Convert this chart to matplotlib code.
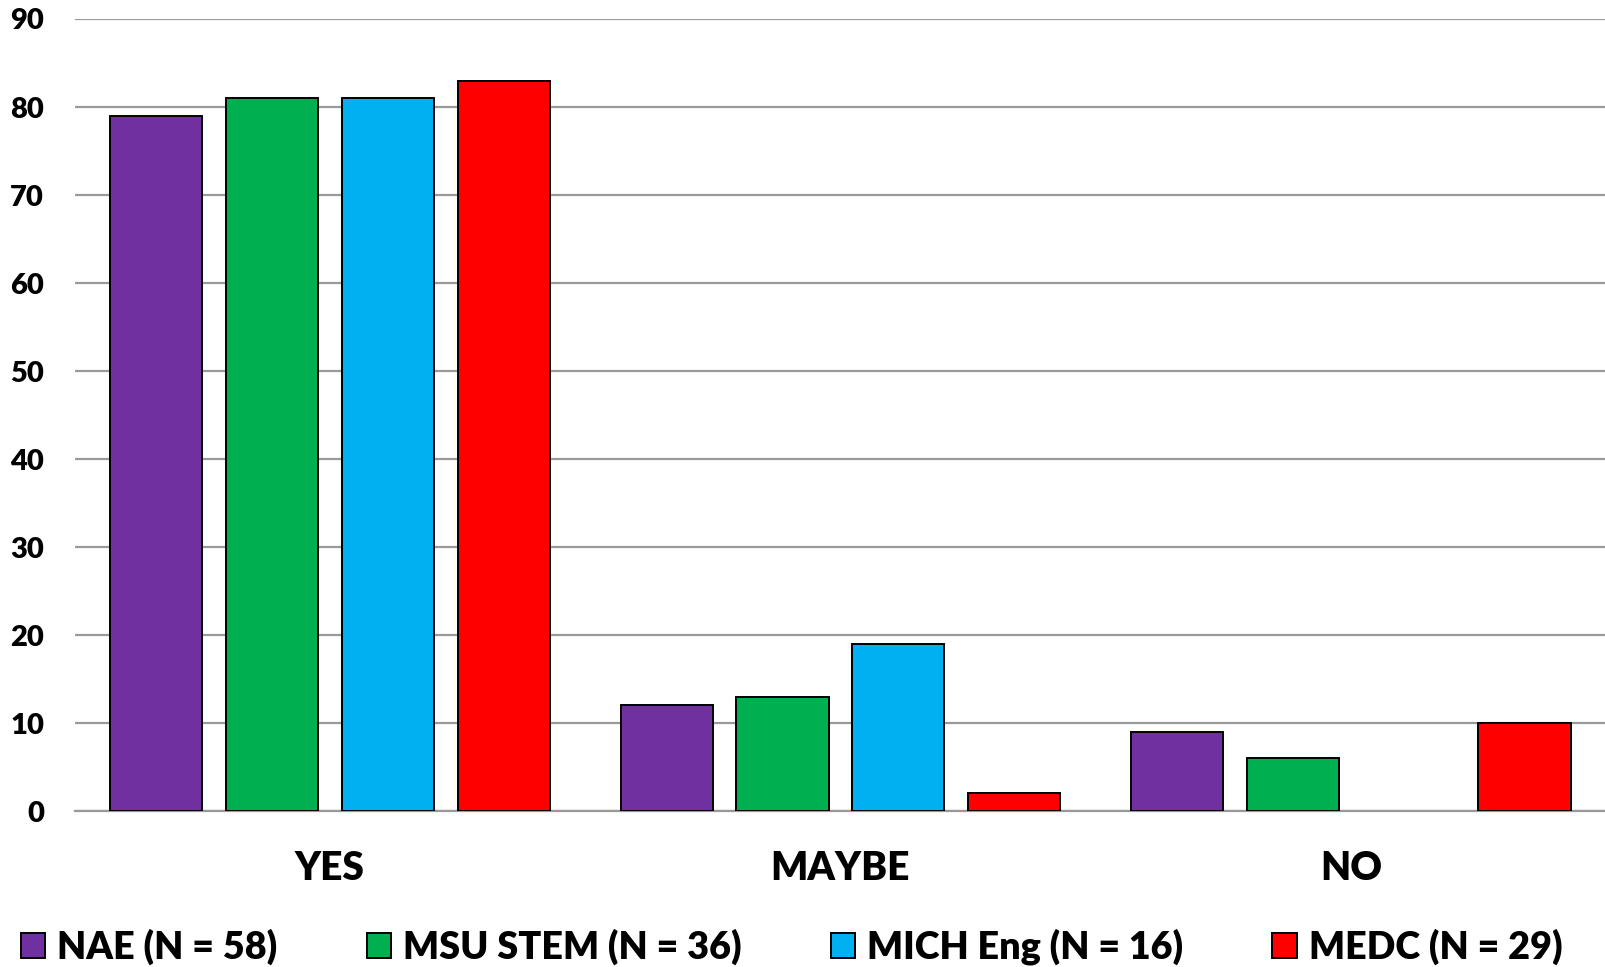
import matplotlib
matplotlib.use("Agg")
import matplotlib.pyplot as plt
import numpy as np

categories = ["YES", "MAYBE", "NO"]
series_names = ["NAE (N = 58)", "MSU STEM (N = 36)", "MICH Eng (N = 16)", "MEDC (N = 29)"]
nae = [79, 12, 9]
msu_stem = [81, 13, 6]
mich_eng = [81, 19, 0]
medc = [83, 2, 10]
yticks = [0, 10, 20, 30, 40, 50, 60, 70, 80, 90]

colors = ["#7030A0", "#00B050", "#00B0F0", "#FF0000"]
series = [nae, msu_stem, mich_eng, medc]

plt.rcParams["font.family"] = ["Lato", "DejaVu Sans"]
plt.rcParams["font.weight"] = "heavy"
WEIGHT = "heavy"

W, H = 1606, 967
fig = plt.figure(figsize=(W / 100, H / 100), dpi=100)
left, right, top, bottom = 74.7, 1606, 19, 811
ax = fig.add_axes([left / W, 1 - bottom / H, (right - left) / W, (bottom - top) / H])

x = np.arange(len(categories))
bar_w = 0.1807
step = 0.2269
offsets = (np.arange(len(series)) - 1.5) * step

handles = []
for vals, off, col, name in zip(series, offsets, colors, series_names):
    bars = ax.bar(x + off, vals, width=bar_w, color=col, edgecolor="black",
                  linewidth=1.4, zorder=3, label=name)
    for b, v in zip(bars, vals):
        if v == 0:
            b.set_visible(False)
    handles.append(bars)

ax.set_xlim(-0.5, len(categories) - 0.5)
ax.set_ylim(0, 90)
ax.set_yticks(yticks)
ax.set_yticklabels([str(t) for t in yticks], fontsize=21, fontweight=WEIGHT)
ax.set_xticks(x)
ax.set_xticklabels(categories, fontsize=28, fontweight=WEIGHT)
ax.tick_params(axis="y", length=0, pad=22)
ax.tick_params(axis="x", length=0, pad=28)
ax.grid(axis="y", color="#999999", linewidth=1.6, zorder=0)
ax.set_axisbelow(True)
for s in ["top", "right", "left"]:
    ax.spines[s].set_visible(False)
ax.spines["bottom"].set_color("#999999")
ax.spines["bottom"].set_linewidth(1.6)
ax.spines["bottom"].set_zorder(2)

fs = 27.2
em = fs * 100 / 72
leg = fig.legend(handles=handles, labels=series_names, loc="lower left",
                 bbox_to_anchor=(19 / W, 0.0), ncol=4, frameon=False,
                 prop={"size": fs, "weight": WEIGHT},
                 handlelength=24.5 / em, handleheight=24.5 / em,
                 handletextpad=12 / em, columnspacing=89 / em,
                 borderpad=0.05, borderaxespad=0)
for p in leg.get_patches():
    p.set_linewidth(1.4)

fig.savefig("out.png", dpi=100)
